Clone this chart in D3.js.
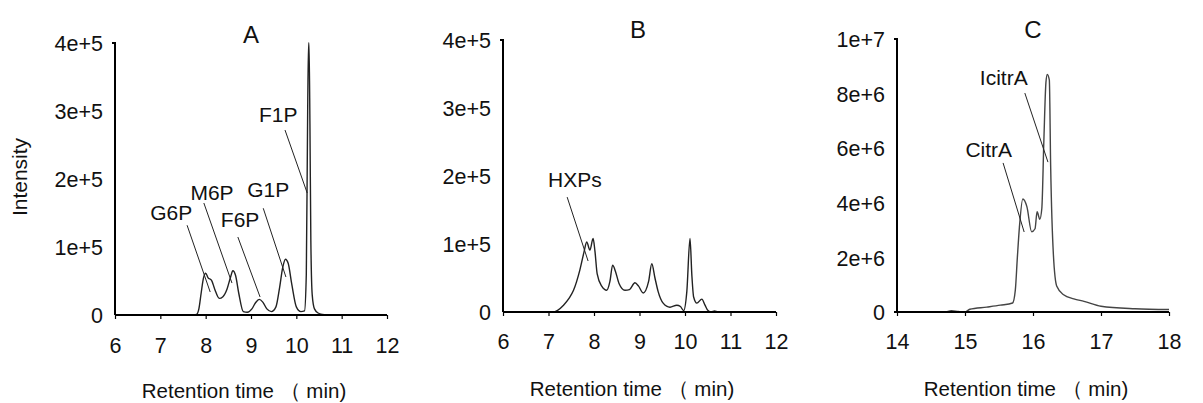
<!DOCTYPE html>
<html>
<head>
<meta charset="utf-8">
<script src="https://cdn.jsdelivr.net/npm/d3@7"></script>
<style>
  html, body { margin: 0; padding: 0; background: #fff; }
  svg text { font-family: "Liberation Sans", Arial, sans-serif; fill: #111; }
</style>
</head>
<body>
<svg id="chart" width="1203" height="403"></svg>
<script>
// ---- Panel A: sugar phosphates (retention time in min, intensity) ----
const aTimes  = [6.0, 7.7, 7.8, 7.85, 7.9, 7.95, 8.0, 8.05, 8.13, 8.2, 8.3, 8.38, 8.47, 8.55, 8.6, 8.66, 8.73, 8.83, 8.92, 9.02, 9.1, 9.18, 9.26, 9.35, 9.45, 9.55, 9.63, 9.7, 9.76, 9.82, 9.9, 10.0, 10.1, 10.18, 10.22, 10.25, 10.27, 10.28, 10.3, 10.32, 10.35, 10.4, 10.48, 10.58, 10.7, 12.0];
const aValues = [0, 0, 1000, 9000, 32000, 54000, 61500, 55000, 51000, 38000, 24500, 27000, 38000, 56000, 65000, 58000, 32000, 5000, 4000, 9000, 18000, 23000, 19000, 9000, 5000, 12000, 40000, 70000, 82000, 76000, 45000, 12000, 5000, 6000, 60000, 300000, 400000, 400000, 280000, 110000, 30000, 9000, 3000, 800, 0, 0];

// ---- Panel B: hexose phosphates ----
const bTimes  = [6.0, 7.1, 7.2, 7.33, 7.45, 7.55, 7.69, 7.78, 7.84, 7.91, 7.98, 8.02, 8.07, 8.17, 8.28, 8.35, 8.41, 8.47, 8.55, 8.68, 8.78, 8.9, 8.98, 9.08, 9.2, 9.27, 9.34, 9.41, 9.52, 9.67, 9.82, 9.9, 9.97, 10.04, 10.11, 10.15, 10.19, 10.26, 10.37, 10.44, 10.5, 10.58, 10.65, 10.72, 12.0];
const bValues = [0, 0, 2500, 10000, 20000, 32000, 62000, 88000, 103000, 91000, 108000, 90000, 56000, 38000, 32000, 45000, 69000, 60000, 42000, 32000, 33000, 43000, 38000, 28000, 45000, 71000, 50000, 30000, 13000, 7000, 10000, 8000, 2000, 30000, 108000, 55000, 22000, 13000, 19000, 10000, 2500, 0, 1500, 0, 0];

// ---- Panel C: citrate / isocitrate ----
const cTimes  = [14.0, 14.7, 14.8, 14.9, 15.0, 15.07, 15.32, 15.52, 15.7, 15.74, 15.77, 15.8, 15.85, 15.91, 15.98, 16.03, 16.06, 16.1, 16.13, 16.16, 16.19, 16.21, 16.24, 16.26, 16.3, 16.35, 16.45, 16.6, 16.75, 17.0, 17.5, 18.0];
const cValues = [0, 0, 50000, 20000, 0, 100000, 180000, 250000, 330000, 800000, 2000000, 3100000, 4140000, 3860000, 2940000, 3050000, 3670000, 3400000, 3800000, 6300000, 8400000, 8700000, 8500000, 5300000, 2100000, 940000, 630000, 480000, 390000, 210000, 120000, 90000];

// ---- Axis tick values ----
const xTicksAB = [6, 7, 8, 9, 10, 11, 12];
const xTicksC  = [14, 15, 16, 17, 18];
const yTicksAB = [0, 100000, 200000, 300000, 400000];
const yTicksC  = [0, 2000000, 4000000, 6000000, 8000000, 10000000];

// ---- Peak annotations: label position and leader line (data units) ----
const annotA = [
  { label: "G6P", lx: 7.24, ly: 139700, x1: 7.59, y1: 132000, x2: 8.10, y2: 33800 },
  { label: "M6P", lx: 8.14, ly: 169000, x1: 7.96, y1: 164700, x2: 8.58, y2: 47000 },
  { label: "F6P", lx: 8.76, ly: 129400, x1: 8.71, y1: 114700, x2: 9.20, y2: 26500 },
  { label: "G1P", lx: 9.38, ly: 173500, x1: 9.27, y1: 157000, x2: 9.77, y2: 55900 },
  { label: "F1P", lx: 9.60, ly: 283800, x1: 9.75, y1: 272000, x2: 10.24, y2: 179400 }
];
const annotB = [
  { label: "HXPs", lx: 7.58, ly: 183800, x1: 7.41, y1: 169000, x2: 7.87, y2: 75000 }
];
const annotC = [
  { label: "IcitrA", lx: 15.57, ly: 8315000, x1: 15.88, y1: 8020000, x2: 16.22, y2: 5490000 },
  { label: "CitrA",  lx: 15.35, ly: 5680000, x1: 15.56, y1: 5460000, x2: 15.87, y2: 2930000 }
];

const svg = d3.select("#chart");
const yFmt = d => d === 0 ? "0" : d3.format(".0e")(d);

function drawPanel(opt) {
  const g = svg.append("g");
  const x = d3.scaleLinear().domain(opt.xDomain).range([opt.left, opt.right]);
  const y = d3.scaleLinear().domain(opt.yDomain).range([opt.bottom, opt.top]);

  // trace
  const pts = opt.times.map((t, i) => [t, opt.values[i]]);
  const line = d3.line().x(d => x(d[0])).y(d => y(d[1])).curve(d3.curveMonotoneX);
  g.append("path").datum(pts)
    .attr("d", line)
    .attr("fill", "none")
    .attr("stroke", opt.traceColor)
    .attr("stroke-width", 1.4)
    .attr("stroke-linejoin", "round");

  // x axis
  const xa = g.append("g")
    .attr("transform", `translate(0,${opt.bottom})`)
    .call(d3.axisBottom(x).tickValues(opt.xTicks).tickSize(4).tickSizeOuter(0).tickPadding(0).tickFormat(d3.format("d")));
  xa.attr("font-family", null).attr("font-size", null);
  xa.select(".domain").attr("stroke", "#000").attr("stroke-width", 2)
    .attr("d", `M${opt.left - opt.xOver},0H${opt.right}`);
  xa.selectAll(".tick line").attr("stroke", "#000").attr("stroke-width", 1.2);
  xa.selectAll(".tick text")
    .attr("y", opt.xLabelY - opt.bottom).attr("dy", 0)
    .style("font-size", "21.5px").attr("fill", "#111");

  // y axis
  const ya = g.append("g")
    .attr("transform", `translate(${opt.left},0)`)
    .call(d3.axisLeft(y).tickValues(opt.yTicks).tickSize(0).tickPadding(12).tickFormat(yFmt));
  ya.attr("font-family", null).attr("font-size", null);
  ya.select(".domain").attr("stroke", "#000").attr("stroke-width", 2)
    .attr("d", `M-3,${opt.top}H0V${opt.bottom}`);
  ya.selectAll(".tick text").attr("dy", "0.36em")
    .style("font-size", "21.5px").attr("fill", "#111");

  // panel letter
  g.append("text")
    .attr("x", opt.titleX).attr("y", opt.titleY)
    .attr("text-anchor", "middle").style("font-size", "24px")
    .text(opt.title);

  // x axis title
  g.append("text")
    .attr("x", opt.xTitleX).attr("y", opt.xTitleY)
    .attr("text-anchor", "middle").style("font-size", "20.5px")
    .text("Retention time （ min)");

  // annotations
  opt.annot.forEach(a => {
    g.append("line")
      .attr("x1", x(a.x1)).attr("y1", y(a.y1))
      .attr("x2", x(a.x2)).attr("y2", y(a.y2))
      .attr("stroke", "#222").attr("stroke-width", 1);
    g.append("text")
      .attr("x", x(a.lx)).attr("y", y(a.ly))
      .attr("text-anchor", "middle").style("font-size", "21px")
      .text(a.label);
  });
}

drawPanel({
  times: aTimes, values: aValues, xDomain: [6, 12], yDomain: [0, 400000],
  left: 115, right: 387, top: 43, bottom: 315,
  xTicks: xTicksAB, yTicks: yTicksAB, xLabelY: 353, xOver: 0,
  title: "A", titleX: 251, titleY: 43, xTitleX: 244, xTitleY: 398,
  annot: annotA, traceColor: "#222"
});
drawPanel({
  times: bTimes, values: bValues, xDomain: [6, 12], yDomain: [0, 400000],
  left: 503, right: 776, top: 40, bottom: 312,
  xTicks: xTicksAB, yTicks: yTicksAB, xLabelY: 349, xOver: 0,
  title: "B", titleX: 638, titleY: 38, xTitleX: 632, xTitleY: 396,
  annot: annotB, traceColor: "#222"
});
drawPanel({
  times: cTimes, values: cValues, xDomain: [14, 18], yDomain: [0, 10000000],
  left: 897, right: 1169, top: 39, bottom: 312,
  xTicks: xTicksC, yTicks: yTicksC, xLabelY: 349, xOver: 3,
  title: "C", titleX: 1033, titleY: 38, xTitleX: 1026, xTitleY: 396,
  annot: annotC, traceColor: "#444"
});

// shared y axis title
svg.append("text")
  .attr("transform", "translate(27,177) rotate(-90)")
  .attr("text-anchor", "middle").style("font-size", "21px")
  .text("Intensity");
</script>
</body>
</html>
